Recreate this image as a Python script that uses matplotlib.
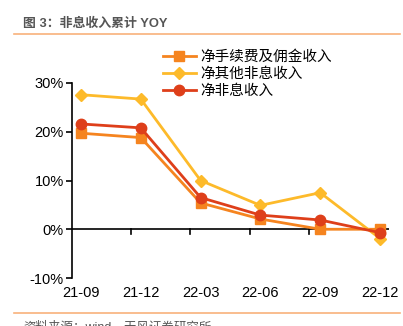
import matplotlib.pyplot as plt
from matplotlib.lines import Line2D

plt.rcParams['font.family'] = ['Liberation Sans', 'Noto Sans CJK SC', 'DejaVu Sans']

quarters = ['21-09', '21-12', '22-03', '22-06', '22-09', '22-12']
fee_income = [19.7, 18.8, 5.4, 2.1, 0.0, 0.0]
other_income = [27.6, 26.7, 10.0, 4.9, 7.5, -1.9]
non_interest = [21.6, 20.8, 6.5, 2.9, 1.9, -0.7]

c_fee = '#F5841F'
c_other = '#FDBA2A'
c_non = '#DE3F1A'

fig = plt.figure(figsize=(4.03, 3.26), dpi=100)

# header and footer
fig.text(23 / 403, 1 - 24 / 326, '图 3：非息收入累计 YOY', fontsize=9.3,
         color='#555555', fontweight='bold', va='center')
fig.add_artist(Line2D([14 / 403, 400 / 403], [1 - 34 / 326] * 2,
                      color='#F8B27C', lw=1.2))
fig.add_artist(Line2D([14 / 403, 400 / 403], [1 - 313 / 326] * 2,
                      color='#F8B27C', lw=1.2))
fig.text(23 / 403, 1 - 327 / 326, '资料来源：wind，天风证券研究所', fontsize=9,
         color='#555555', va='center')

ax = fig.add_axes([72 / 403, 1 - 278 / 326, 317 / 403, 195 / 326])
x = range(len(quarters))
ax.plot(x, fee_income, color=c_fee, lw=2, marker='s', ms=7,
        label='净手续费及佣金收入', zorder=3)
ax.plot(x, other_income, color=c_other, lw=2, marker='D', ms=6,
        label='净其他非息收入', zorder=3)
ax.plot(x, non_interest, color=c_non, lw=2, marker='o', ms=7.5,
        label='净非息收入', zorder=4)

ax.set_xlim(-0.15, 5.15)
ax.set_ylim(-10, 30)
ax.set_yticks([-10, 0, 10, 20, 30])
ax.set_yticklabels(['-10%', '0%', '10%', '20%', '30%'], fontsize=10.5)

for s in ['top', 'right', 'bottom']:
    ax.spines[s].set_visible(False)
ax.spines['left'].set_linewidth(1.2)
ax.axhline(0, color='black', lw=1.2, zorder=2)
ax.tick_params(axis='y', length=4, width=1.2, pad=2)

# category labels below the plot, tick marks hanging from the zero line
ax.set_xticks([])
for i, q in enumerate(quarters):
    ax.text(i, -11.7, q, ha='center', va='top', fontsize=10.5)
for t in [0.83, 1.83, 2.82, 3.82]:
    ax.plot([t, t], [0, -0.9], color='black', lw=1.2, clip_on=False)

ax.legend(loc='upper left', bbox_to_anchor=(0.27, 1.2), frameon=False,
          fontsize=10.5, handlelength=2.2, handletextpad=0.3,
          labelspacing=0.22, borderaxespad=0)

fig.savefig('out.png', dpi=100)
